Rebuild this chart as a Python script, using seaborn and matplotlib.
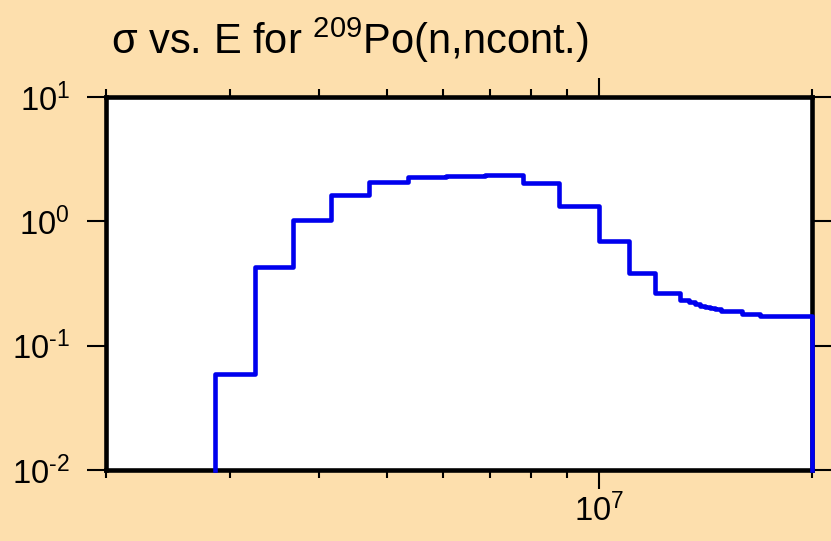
import numpy as np
import pandas as pd
import matplotlib
matplotlib.use("Agg")
import matplotlib.pyplot as plt
import matplotlib.ticker as mticker
import seaborn as sns

# ---- data ----
bin_edges_eV = [2.853e6, 3.247e6, 3.675e6, 4.16e6, 4.72e6, 5.35e6, 6.07e6, 6.88e6,
                7.78e6, 8.77e6, 10.0e6, 11.0e6, 12.0e6, 13.0e6, 13.38e6, 13.64e6,
                13.87e6, 14.09e6, 14.32e6, 14.56e6, 14.85e6, 15.9e6, 16.86e6, 20.0e6]
sigma_b = [0.0592, 0.427, 1.03, 1.63, 2.06, 2.26, 2.33, 2.35, 2.02, 1.34, 0.699,
           0.382, 0.267, 0.233, 0.223, 0.215, 0.210, 0.205, 0.202, 0.197, 0.190,
           0.181, 0.172]
x_limits = (2e6, 2e7)
y_limits = (1e-2, 1e1)
title_text = "σ vs. E for $^{209}$Po(n,ncont.)"

# ---- style ----
bg = "#FDDFAD"
line_col = "#0000EE"
plt.rcParams["font.family"] = ["Liberation Sans", "DejaVu Sans"]
plt.rcParams["mathtext.fontset"] = "custom"
plt.rcParams["mathtext.rm"] = "Liberation Sans"
plt.rcParams["mathtext.it"] = "Liberation Sans:italic"
plt.rcParams["mathtext.bf"] = "Liberation Sans:bold"
plt.rcParams["axes.unicode_minus"] = False

fig = plt.figure(figsize=(8.31, 5.41), dpi=100, facecolor=bg)
ax = fig.add_axes([106/831, 1-470/541, (812-106)/831, (470-97)/541])
ax.set_facecolor("white")

ax.set_xscale("log")
ax.set_yscale("log")
ax.set_xlim(*x_limits)
ax.set_ylim(*y_limits)

# step outline built from the bin edges / values, closed down to the axis floor
floor_value = y_limits[0]
xs = [bin_edges_eV[0]] + list(bin_edges_eV) + [bin_edges_eV[-1]]
ys = [floor_value] + list(sigma_b) + [sigma_b[-1], floor_value]
df = pd.DataFrame({"E": xs, "sigma": ys})
sns.lineplot(data=df, x="E", y="sigma", ax=ax, estimator=None, sort=False,
             drawstyle="steps-post", color=line_col, linewidth=3.3,
             clip_on=False, zorder=10)
ax.set_xlim(*x_limits)
ax.set_ylim(*y_limits)
ax.set_xlabel("")
ax.set_ylabel("")

for s in ax.spines.values():
    s.set_linewidth(3.3)
    s.set_color("black")
    s.set_zorder(5)

def logfmt(v, pos):
    e = int(round(np.log10(v)))
    if e < 0:
        return r"$10^{\text{-}%d}$" % (-e)
    return r"$10^{%d}$" % e

ax.xaxis.set_major_locator(mticker.LogLocator(base=10, numticks=20))
ax.xaxis.set_minor_locator(mticker.LogLocator(base=10, subs=np.arange(2, 10), numticks=20))
ax.xaxis.set_major_formatter(mticker.FuncFormatter(logfmt))
ax.xaxis.set_minor_formatter(mticker.NullFormatter())
ax.yaxis.set_major_locator(mticker.LogLocator(base=10, numticks=20))
ax.yaxis.set_minor_locator(mticker.NullLocator())
ax.yaxis.set_major_formatter(mticker.FuncFormatter(logfmt))

ax.tick_params(axis="both", which="major", direction="out", length=14, width=1.5,
               labelsize=23.5, color="black")
ax.tick_params(axis="x", which="minor", direction="out", length=6, width=1.5,
               top=True, bottom=True)
ax.tick_params(axis="x", which="major", top=True, pad=3)
ax.tick_params(axis="y", which="major", right=True, pad=12)

fig.text(111/831, 1-54/541, title_text, fontsize=30, ha="left", va="baseline")

fig.savefig("out.png", dpi=100, facecolor=bg)
